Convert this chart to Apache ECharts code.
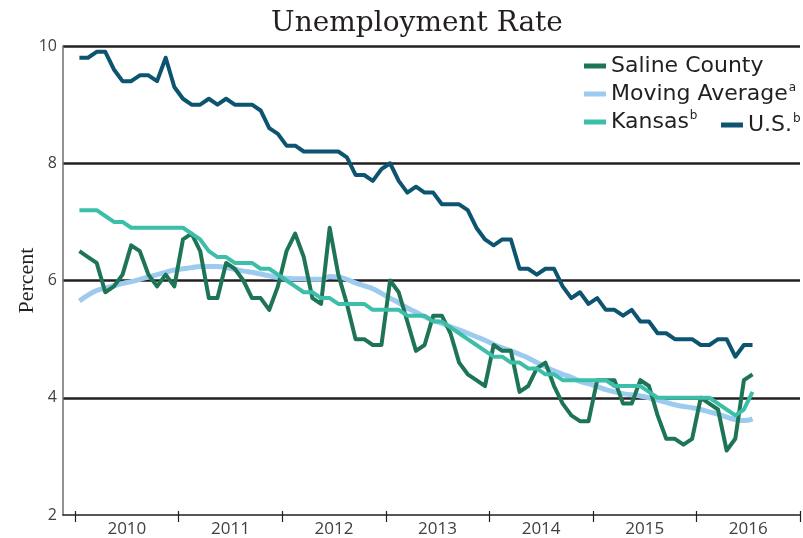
<!DOCTYPE html>
<html><head><meta charset="utf-8">
<script src="https://cdn.jsdelivr.net/npm/echarts@6/dist/echarts.min.js"></script>
<style>html,body{margin:0;padding:0;background:#fff}#c{width:803px;height:538px}</style>
</head><body><div id="c"></div>
<script>
// Categories / tick labels
const years = ['2010','2011','2012','2013','2014','2015','2016'];
const yearTicks = [0,12,24,36,48,60,72,84];      // month index at year boundaries
const yearLabelPos = [6,18,30,42,54,66,78];       // mid-year positions for labels
const yTicks = [2,4,6,8,10];

// Monthly values, Jan 2010 – Jul 2016
const salineCounty = [
  6.5,6.4,6.3,5.8,5.9,6.1,6.6,6.5,6.1,5.9,6.1,5.9,
  6.7,6.8,6.5,5.7,5.7,6.3,6.2,6.0,5.7,5.7,5.5,5.9,
  6.5,6.8,6.4,5.7,5.6,6.9,6.1,5.6,5.0,5.0,4.9,4.9,
  6.0,5.8,5.3,4.8,4.9,5.4,5.4,5.1,4.6,4.4,4.3,4.2,
  4.9,4.8,4.8,4.1,4.2,4.5,4.6,4.2,3.9,3.7,3.6,3.6,
  4.3,4.3,4.3,3.9,3.9,4.3,4.2,3.7,3.3,3.3,3.2,3.3,
  4.0,3.9,3.8,3.1,3.3,4.3,4.4
];
const movingAverage = [
  5.65,5.75,5.83,5.87,5.91,5.95,5.98,6.02,6.06,6.10,6.14,6.18,
  6.20,6.22,6.24,6.24,6.24,6.22,6.19,6.16,6.14,6.11,6.08,6.05,
  6.04,6.03,6.03,6.02,6.02,6.07,6.06,6.02,5.96,5.91,5.86,5.78,
  5.70,5.62,5.53,5.46,5.38,5.32,5.27,5.21,5.16,5.10,5.04,4.98,
  4.91,4.85,4.80,4.74,4.68,4.60,4.53,4.46,4.40,4.35,4.28,4.24,
  4.19,4.14,4.10,4.07,4.05,4.03,4.00,3.96,3.92,3.88,3.85,3.83,
  3.80,3.76,3.72,3.67,3.63,3.61,3.64
];
const kansas = [
  7.2,7.2,7.2,7.1,7.0,7.0,6.9,6.9,6.9,6.9,6.9,6.9,
  6.9,6.8,6.7,6.5,6.4,6.4,6.3,6.3,6.3,6.2,6.2,6.1,
  6.0,5.9,5.8,5.8,5.7,5.7,5.6,5.6,5.6,5.6,5.5,5.5,
  5.5,5.5,5.4,5.4,5.4,5.3,5.3,5.2,5.1,5.0,4.9,4.8,
  4.7,4.7,4.6,4.6,4.5,4.5,4.4,4.4,4.3,4.3,4.3,4.3,
  4.3,4.3,4.2,4.2,4.2,4.2,4.1,4.0,4.0,4.0,4.0,4.0,
  4.0,4.0,3.9,3.8,3.7,3.8,4.1
];
const us = [
  9.8,9.8,9.9,9.9,9.6,9.4,9.4,9.5,9.5,9.4,9.8,9.3,
  9.1,9.0,9.0,9.1,9.0,9.1,9.0,9.0,9.0,8.9,8.6,8.5,
  8.3,8.3,8.2,8.2,8.2,8.2,8.2,8.1,7.8,7.8,7.7,7.9,
  8.0,7.7,7.5,7.6,7.5,7.5,7.3,7.3,7.3,7.2,6.9,6.7,
  6.6,6.7,6.7,6.2,6.2,6.1,6.2,6.2,5.9,5.7,5.8,5.6,
  5.7,5.5,5.5,5.4,5.5,5.3,5.3,5.1,5.1,5.0,5.0,5.0,
  4.9,4.9,5.0,5.0,4.7,4.9,4.9
];

function toPoints(arr){ return arr.map((v,i)=>[i+0.5, v]); }

const sans = 'Open Sans';
const legendFont = 'DejaVu Sans';
const chart = echarts.init(document.getElementById('c'), null, {renderer:'canvas'});
function lineSeries(name, data, color, width, smooth, z){
  return {name, type:'line', data: toPoints(data), showSymbol:false, symbol:'none',
    smooth: smooth ? 0.5 : false, z,
    lineStyle:{color, width, join:'round', cap:'butt'}, itemStyle:{color}};
}
const richText = {
  n:{fontSize:22, fontFamily:legendFont, color:'#231f20', lineHeight:24},
  s:{fontSize:12, fontFamily:legendFont, color:'#231f20', verticalAlign:'top', lineHeight:24, padding:[0,0,0,1]}
};
function legendFmt(name){
  if(name==='Moving Average') return '{n|Moving Average}{s|a}';
  if(name==='Kansas') return '{n|Kansas}{s|b}';
  if(name==='U.S.') return '{n|U.S.}{s|b}';
  return '{n|'+name+'}';
}
chart.setOption({
  animation:false,
  backgroundColor:'#ffffff',
  title:{text:'Unemployment Rate', left:412, top:5, textAlign:'center',
    textStyle:{fontFamily:'DejaVu Serif', fontSize:28, fontWeight:'normal', color:'#231f20'}},
  legend:[
    {data:['Saline County','Moving Average','Kansas'], orient:'vertical', left:579, top:50,
     icon:'rect', itemWidth:22, itemHeight:5, itemGap:5, formatter:legendFmt,
     textStyle:{rich:richText}},
    {data:['U.S.'], orient:'vertical', left:716, top:108,
     icon:'rect', itemWidth:22, itemHeight:5, formatter:legendFmt,
     textStyle:{rich:richText}}
  ],
  grid:{left:63, right:3, top:46, bottom:20, containLabel:false},
  xAxis:[
    {type:'value', min:-1.4, max:84,
     axisLine:{show:true, onZero:false, lineStyle:{color:'#231f20', width:1.5}},
     splitLine:{show:false},
     axisTick:{show:true, customValues:yearTicks, length:7, lineStyle:{color:'#231f20', width:1.2}},
     axisLabel:{show:true, customValues:yearLabelPos, formatter:(v)=>years[Math.round((v-6)/12)],
       fontSize:17, fontFamily:sans, color:'#414042', margin:6}},
    {type:'value', min:-1.4, max:84, position:'bottom',
     axisLine:{show:false, onZero:false}, splitLine:{show:false},
     axisTick:{show:true, inside:true, customValues:yearTicks, length:4, lineStyle:{color:'#231f20', width:1.2}},
     axisLabel:{show:false}}
  ],
  yAxis:{type:'value', min:2, max:10, interval:2,
    name:'Percent', nameLocation:'middle', nameGap:25, nameMoveOverlap:false,
    nameTextStyle:{fontFamily:'Liberation Serif', fontSize:22, color:'#231f20'},
    axisLine:{show:true, onZero:false, lineStyle:{color:'#6d6e71', width:1.5}},
    axisTick:{show:false},
    axisLabel:{fontSize:16, fontFamily:sans, color:'#414042', margin:6},
    splitLine:{show:true, lineStyle:{color:['rgba(0,0,0,0)','#231f20','#231f20','#231f20','#231f20'], width:2.5}}},
  series:[
    lineSeries('Saline County', salineCounty, '#1e7556', 4, false, 3),
    lineSeries('Moving Average', movingAverage, '#9dcbef', 5, true, 2),
    lineSeries('Kansas', kansas, '#3dbea9', 4, false, 4),
    lineSeries('U.S.', us, '#0c5470', 4, false, 5)
  ]
});
</script>
</body></html>
